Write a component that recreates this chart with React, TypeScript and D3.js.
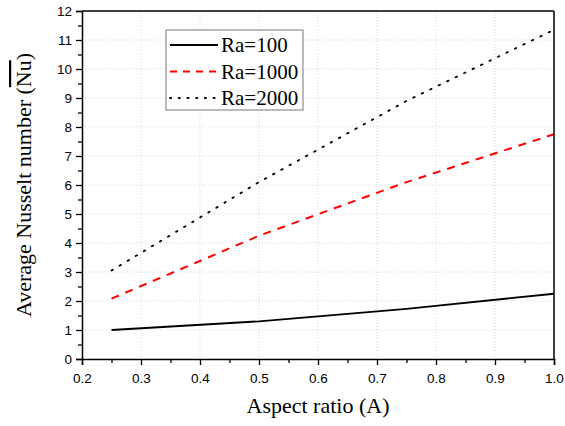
import { useEffect, useRef } from "react";
import * as d3 from "d3";

// aspect ratios where Nu was computed
const aspect = [0.25, 0.5, 0.75, 1.0];
// average Nusselt number per Rayleigh number
const nuRa100 = [1.0, 1.3, 1.73, 2.25];
const nuRa1000 = [2.08, 4.25, 6.1, 7.75];
const nuRa2000 = [3.05, 6.1, 8.9, 11.35];

const xTicks = [0.2, 0.3, 0.4, 0.5, 0.6, 0.7, 0.8, 0.9, 1.0];
const yTicks = [0, 1, 2, 3, 4, 5, 6, 7, 8, 9, 10, 11, 12];

const seriesList = [
  { label: "Ra=100", values: nuRa100, color: "#000", dash: null, width: 1.8 },
  { label: "Ra=1000", values: nuRa1000, color: "#f00", dash: "8 7", width: 2 },
  { label: "Ra=2000", values: nuRa2000, color: "#000", dash: "1.6 7.8", width: 1.8 },
];

const App = () => {
  const ref = useRef(null);
  const width = 565;
  const height = 426;
  const left = 82;
  const right = 554;
  const top = 11;
  const bottom = 359;

  useEffect(() => {
    const svg = d3.select(ref.current);
    svg.selectAll("*").remove();

    const x = d3.scaleLinear().domain([0.2, 1.0]).range([left, right]);
    const y = d3.scaleLinear().domain([0, 12]).range([bottom, top]);

    // grid
    const grid = svg.append("g").attr("stroke", "#cfcfcf").attr("stroke-width", 0.8).attr("stroke-dasharray", "1 2");
    grid.selectAll(".gx")
      .data(xTicks.slice(1, -1))
      .enter()
      .append("line")
      .attr("x1", (d) => x(d))
      .attr("x2", (d) => x(d))
      .attr("y1", top)
      .attr("y2", bottom);
    grid.selectAll(".gy")
      .data(yTicks.slice(1, -1))
      .enter()
      .append("line")
      .attr("x1", left)
      .attr("x2", right)
      .attr("y1", (d) => y(d))
      .attr("y2", (d) => y(d));

    // curves
    const line = d3
      .line()
      .x((d) => x(d[0]))
      .y((d) => y(d[1]));

    seriesList.forEach((s) => {
      const pts = aspect.map((a, i) => [a, s.values[i]]);
      svg
        .append("path")
        .attr("d", line(pts))
        .attr("fill", "none")
        .attr("stroke", s.color)
        .attr("stroke-width", s.width)
        .attr("stroke-linecap", s.dash && s.dash.startsWith("1.6") ? "round" : "butt")
        .attr("stroke-dasharray", s.dash);
    });

    // axes
    const xAxis = d3.axisBottom(x).tickValues(xTicks).tickSize(6).tickFormat(d3.format(".1f"));
    const gx = svg.append("g").attr("transform", `translate(0,${bottom})`).call(xAxis);
    gx.select(".domain").attr("stroke-width", 1.5);
    gx.selectAll(".tick line").attr("stroke-width", 1.3);
    gx.selectAll(".tick text")
      .attr("font-family", "Liberation Sans, Arial, sans-serif")
      .attr("font-size", 13.5)
      .attr("fill", "#000")
      .attr("dy", "1.1em");
    svg.append("g")
      .attr("transform", `translate(0,${bottom})`)
      .call(d3.axisBottom(x).tickValues(d3.range(0.25, 1.0, 0.1)).tickSize(4).tickFormat(() => ""))
      .call((g) => g.select(".domain").remove())
      .selectAll(".tick line")
      .attr("stroke-width", 1.3);

    const yAxis = d3.axisLeft(y).tickValues(yTicks).tickSize(6);
    const gy = svg.append("g").attr("transform", `translate(${left},0)`).call(yAxis);
    gy.select(".domain").attr("stroke-width", 1.5);
    gy.selectAll(".tick line").attr("stroke-width", 1.3);
    gy.selectAll(".tick text")
      .attr("font-family", "Liberation Sans, Arial, sans-serif")
      .attr("font-size", 13.5)
      .attr("fill", "#000")
      .attr("x", -10);
    svg.append("g")
      .attr("transform", `translate(${left},0)`)
      .call(d3.axisLeft(y).tickValues(d3.range(0.5, 12, 1)).tickSize(4).tickFormat(() => ""))
      .call((g) => g.select(".domain").remove())
      .selectAll(".tick line")
      .attr("stroke-width", 1.3);

    // frame top / right
    svg.append("line").attr("x1", left).attr("x2", right).attr("y1", top).attr("y2", top).attr("stroke", "#000").attr("stroke-width", 1.5);
    svg.append("line").attr("x1", right).attr("x2", right).attr("y1", top).attr("y2", bottom).attr("stroke", "#000").attr("stroke-width", 1.5);

    // axis titles
    svg.append("text")
      .attr("x", (left + right) / 2)
      .attr("y", 413)
      .attr("text-anchor", "middle")
      .attr("font-family", "Liberation Serif, Times New Roman, serif")
      .attr("font-size", 22)
      .text("Aspect ratio (A)");

    const yt = svg.append("text")
      .attr("transform", `translate(31,${(top + bottom) / 2}) rotate(-90)`)
      .attr("text-anchor", "middle")
      .attr("font-family", "Liberation Serif, Times New Roman, serif")
      .attr("font-size", 22);
    yt.append("tspan").text("Average Nusselt number (");
    yt.append("tspan").attr("text-decoration", "overline").text("Nu");
    yt.append("tspan").text(")");

    // legend
    const lg = svg.append("g");
    lg.append("rect")
      .attr("x", 166)
      .attr("y", 30)
      .attr("width", 137)
      .attr("height", 80)
      .attr("fill", "#fff")
      .attr("stroke", "#777")
      .attr("stroke-width", 1);
    seriesList.forEach((s, i) => {
      const ly = 45 + i * 26.5;
      lg.append("line")
        .attr("x1", 170)
        .attr("x2", 218)
        .attr("y1", ly)
        .attr("y2", ly)
        .attr("stroke", s.color)
        .attr("stroke-width", s.width)
        .attr("stroke-linecap", s.dash && s.dash.startsWith("1.6") ? "round" : "butt")
        .attr("stroke-dasharray", s.dash ? (s.dash.startsWith("1.6") ? "1.2 7.5" : "7 6") : null);
      lg.append("text")
        .attr("x", 221)
        .attr("y", ly + 7)
        .attr("font-family", "Liberation Serif, Times New Roman, serif")
        .attr("font-size", 21)
        .text(s.label);
    });
  }, []);

  return <svg ref={ref} width={width} height={height} style={{ position: "absolute", left: 0, top: 0, background: "#fff" }}></svg>;
};

export default App;
